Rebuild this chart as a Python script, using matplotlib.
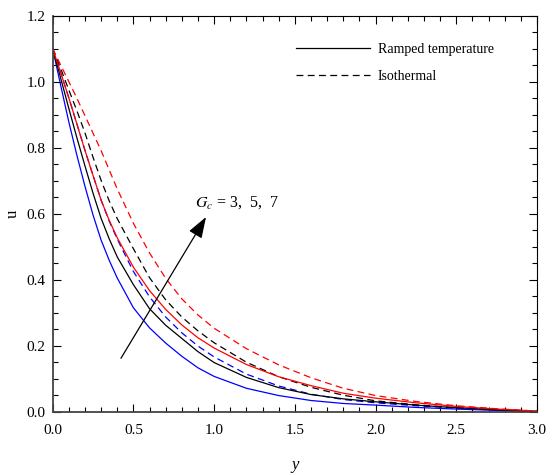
import matplotlib.pyplot as plt
from matplotlib.ticker import MultipleLocator

plt.rcParams['font.family'] = ['Liberation Serif', 'DejaVu Serif']
plt.rcParams['mathtext.fontset'] = 'stix'

# velocity profiles u(y) for Gc = 3, 5, 7
y = [0.0, 0.05, 0.1, 0.15, 0.2, 0.25, 0.3, 0.35, 0.4, 0.5, 0.6, 0.7, 0.8, 0.9, 1.0,
     1.2, 1.4, 1.6, 1.8, 2.0, 2.25, 2.5, 2.75, 3.0]

# ramped temperature
ramp_gc3 = [1.10, 0.988, 0.878, 0.777, 0.683, 0.596, 0.520, 0.459, 0.405, 0.315, 0.254, 0.208,
            0.168, 0.133, 0.107, 0.071, 0.049, 0.034, 0.025, 0.020, 0.013, 0.008, 0.004, 0.0]
ramp_gc5 = [1.10, 1.010, 0.919, 0.830, 0.745, 0.662, 0.586, 0.524, 0.469, 0.385, 0.312, 0.262,
            0.222, 0.182, 0.149, 0.104, 0.073, 0.052, 0.039, 0.030, 0.020, 0.012, 0.006, 0.001]
ramp_gc7 = [1.10, 1.027, 0.951, 0.872, 0.792, 0.716, 0.641, 0.580, 0.527, 0.438, 0.367, 0.310,
            0.263, 0.224, 0.193, 0.143, 0.106, 0.079, 0.056, 0.041, 0.027, 0.016, 0.008, 0.002]

# isothermal
iso_gc3 = [1.10, 1.027, 0.951, 0.872, 0.792, 0.716, 0.641, 0.578, 0.523, 0.425, 0.348, 0.287,
           0.239, 0.199, 0.166, 0.114, 0.078, 0.053, 0.037, 0.027, 0.018, 0.011, 0.005, 0.001]
iso_gc5 = [1.10, 1.039, 0.975, 0.912, 0.845, 0.771, 0.701, 0.639, 0.585, 0.494, 0.406, 0.339,
           0.287, 0.245, 0.209, 0.150, 0.106, 0.074, 0.050, 0.033, 0.021, 0.012, 0.006, 0.001]
iso_gc7 = [1.10, 1.050, 1.000, 0.950, 0.897, 0.844, 0.791, 0.733, 0.675, 0.571, 0.481, 0.404,
           0.342, 0.293, 0.253, 0.191, 0.142, 0.103, 0.071, 0.049, 0.031, 0.018, 0.009, 0.002]

colors = ['#0000ff', 'black', '#ff0000']

fig = plt.figure(figsize=(5.47, 4.74), dpi=100)
ax = fig.add_axes([0.0963, 0.1314, 0.8854, 0.8355])

for vals, c in zip([iso_gc3, iso_gc5, iso_gc7], colors):
    ax.plot(y, vals, color=c, lw=0.9, dashes=(5.5, 3.5))
for vals, c in zip([ramp_gc3, ramp_gc5, ramp_gc7], colors):
    ax.plot(y, vals, color=c, lw=0.9)

# legend entries in black
ax.plot([], [], color='black', lw=0.9, label='Ramped temperature')
ax.plot([], [], color='black', lw=0.9, dashes=(5.5, 3.5), label='Isothermal')
ax.legend(loc='upper right', bbox_to_anchor=(0.937, 0.962), frameon=False, fontsize=10,
          handlelength=5.3, handletextpad=0.6, labelspacing=1.0)

ax.annotate('', xy=(0.95, 0.59), xytext=(0.423, 0.162),
            arrowprops=dict(arrowstyle='-|>,head_length=1.3,head_width=0.45',
                            color='black', lw=0.9, shrinkA=0, shrinkB=0))
ax.text(0.88, 0.62, r'$G_c$ = 3,  5,  7', fontsize=11.5)

ax.set_xlim(0, 3)
ax.set_ylim(0, 1.2)
ax.xaxis.set_major_locator(MultipleLocator(0.5))
ax.xaxis.set_minor_locator(MultipleLocator(0.1))
ax.yaxis.set_major_locator(MultipleLocator(0.2))
ax.yaxis.set_minor_locator(MultipleLocator(0.05))
ax.tick_params(which='both', direction='in', top=True, right=True, labelsize=11)
ax.tick_params(which='major', length=5.5, width=0.8)
ax.tick_params(which='minor', length=3.5, width=0.8)
ax.tick_params(axis='x', pad=9)
ax.tick_params(axis='y', pad=5)

for side in ['left', 'bottom']:
    ax.spines[side].set_linewidth(1.3)
    ax.spines[side].set_color('#444444')
for side in ['top', 'right']:
    ax.spines[side].set_linewidth(0.8)

ax.set_xlabel('y', fontsize=12, style='italic', labelpad=14)
ax.set_ylabel('u', fontsize=12, labelpad=4)

fig.savefig('out.png', dpi=100)
